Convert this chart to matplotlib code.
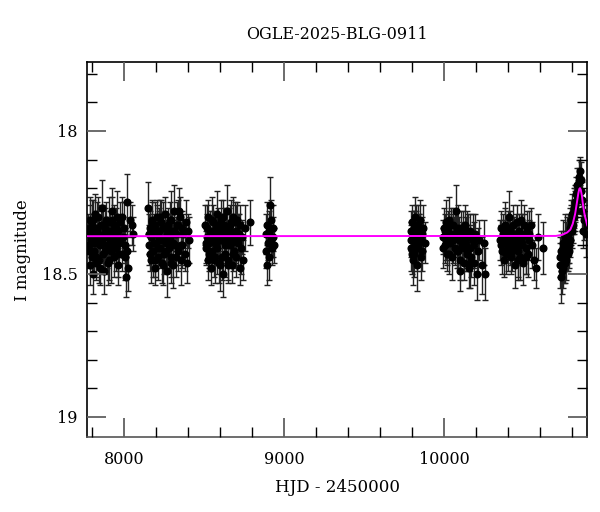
import matplotlib
matplotlib.use('Agg')
import matplotlib.pyplot as plt
import matplotlib.ticker as mticker
import numpy as np

# ---------------------------------------------------------------------------
# Photometry, season by season (HJD - 2450000, I mag, error)
# ---------------------------------------------------------------------------
t1 = [7776, 7781, 7786, 7790, 7795, 7800, 7804, 7809, 7813, 7818,
      7822, 7827, 7832, 7836, 7841, 7846, 7850, 7855, 7860, 7864,
      7869, 7874, 7878, 7883, 7888, 7892, 7897, 7902, 7906, 7911,
      7916, 7920, 7925, 7930, 7935, 7940, 7945, 7950, 7955, 7960,
      7966, 7972, 7978, 7985, 7992, 7999, 8006, 8013, 8017, 8022,
      8028, 8036, 8049, 8058,
      7779, 7788, 7798, 7807, 7816, 7825, 7834, 7844, 7853, 7867,
      7881, 7895, 7909, 7923, 7937, 7952, 7964, 7976, 7990, 8004]
m1 = [18.36, 18.42, 18.31, 18.47, 18.38, 18.33, 18.50, 18.35, 18.42, 18.29,
      18.39, 18.44, 18.34, 18.37, 18.30, 18.45, 18.40, 18.33, 18.38, 18.27,
      18.43, 18.36, 18.49, 18.34, 18.31, 18.40, 18.37, 18.46, 18.32, 18.39,
      18.35, 18.42, 18.28, 18.38, 18.44, 18.33, 18.36, 18.41, 18.30, 18.47,
      18.35, 18.39, 18.32, 18.43, 18.37, 18.34, 18.40, 18.51, 18.25, 18.42,
      18.48, 18.31, 18.33, 18.36,
      18.40, 18.34, 18.44, 18.31, 18.37, 18.46, 18.35, 18.39, 18.48, 18.33,
      18.42, 18.36, 18.45, 18.31, 18.40, 18.34, 18.43, 18.38, 18.30, 18.44]
e1 = [0.07, 0.06, 0.08, 0.07, 0.06, 0.09, 0.07, 0.06, 0.08, 0.07,
      0.06, 0.07, 0.09, 0.06, 0.07, 0.08, 0.06, 0.07, 0.06, 0.10,
      0.07, 0.06, 0.08, 0.07, 0.06, 0.08, 0.07, 0.08, 0.09, 0.06,
      0.07, 0.11, 0.08, 0.06, 0.07, 0.07, 0.06, 0.08, 0.09, 0.07,
      0.06, 0.08, 0.07, 0.06, 0.07, 0.09, 0.06, 0.07, 0.10, 0.07,
      0.08, 0.06, 0.07, 0.06,
      0.07, 0.08, 0.06, 0.07, 0.08, 0.06, 0.07, 0.09, 0.06, 0.07,
      0.08, 0.06, 0.07, 0.08, 0.06, 0.07, 0.08, 0.06, 0.07, 0.08]

t2 = [8152, 8157, 8162, 8167, 8172, 8177, 8182, 8187, 8192, 8197,
      8202, 8207, 8212, 8217, 8222, 8227, 8232, 8237, 8242, 8247,
      8252, 8257, 8262, 8267, 8272, 8277, 8282, 8287, 8292, 8297,
      8302, 8307, 8312, 8318, 8324, 8330, 8336, 8342, 8348, 8354,
      8360, 8366, 8372, 8379, 8386, 8393, 8400, 8408,
      8155, 8165, 8175, 8185, 8195, 8205, 8215, 8225, 8235, 8245,
      8255, 8265, 8275, 8285, 8295, 8305, 8315, 8327, 8339, 8357]
m2 = [18.27, 18.40, 18.34, 18.45, 18.37, 18.31, 18.42, 18.36, 18.48, 18.33,
      18.39, 18.30, 18.44, 18.37, 18.35, 18.41, 18.32, 18.46, 18.38, 18.34,
      18.43, 18.29, 18.39, 18.36, 18.49, 18.33, 18.41, 18.37, 18.31, 18.44,
      18.35, 18.47, 18.28, 18.40, 18.36, 18.33, 18.42, 18.28, 18.30, 18.45,
      18.34, 18.40, 18.36, 18.43, 18.32, 18.46, 18.35, 18.38,
      18.36, 18.43, 18.32, 18.39, 18.45, 18.35, 18.41, 18.30, 18.38, 18.47,
      18.34, 18.42, 18.37, 18.31, 18.46, 18.39, 18.35, 18.44, 18.33, 18.40]
e2 = [0.09, 0.07, 0.06, 0.08, 0.07, 0.06, 0.09, 0.07, 0.06, 0.08,
      0.07, 0.06, 0.08, 0.10, 0.07, 0.06, 0.08, 0.07, 0.06, 0.09,
      0.07, 0.06, 0.08, 0.07, 0.09, 0.06, 0.07, 0.08, 0.10, 0.07,
      0.06, 0.08, 0.09, 0.07, 0.06, 0.08, 0.07, 0.08, 0.07, 0.09,
      0.06, 0.08, 0.07, 0.06, 0.08, 0.07, 0.06, 0.08,
      0.07, 0.06, 0.08, 0.07, 0.06, 0.09, 0.07, 0.06, 0.08, 0.07,
      0.06, 0.07, 0.08, 0.06, 0.07, 0.08, 0.06, 0.07, 0.09, 0.07]

t3 = [8508, 8513, 8518, 8523, 8528, 8533, 8538, 8543, 8548, 8553,
      8558, 8563, 8568, 8573, 8578, 8583, 8588, 8593, 8598, 8603,
      8608, 8613, 8618, 8623, 8628, 8633, 8638, 8643, 8648, 8653,
      8658, 8663, 8668, 8673, 8678, 8683, 8688, 8693, 8698, 8703,
      8708, 8713, 8718, 8723, 8728, 8734, 8740, 8747, 8755, 8787,
      8510, 8520, 8530, 8540, 8550, 8560, 8570, 8580, 8590, 8600,
      8610, 8620, 8630, 8640, 8650, 8660, 8670, 8680, 8695, 8715]
m3 = [18.33, 18.41, 18.37, 18.45, 18.30, 18.39, 18.35, 18.48, 18.36, 18.42,
      18.32, 18.38, 18.44, 18.34, 18.40, 18.29, 18.37, 18.46, 18.35, 18.47,
      18.31, 18.38, 18.50, 18.36, 18.33, 18.43, 18.39, 18.28, 18.45, 18.37,
      18.34, 18.40, 18.32, 18.47, 18.36, 18.30, 18.42, 18.38, 18.35, 18.44,
      18.31, 18.39, 18.36, 18.48, 18.33, 18.41, 18.37, 18.45, 18.34, 18.32,
      18.39, 18.34, 18.43, 18.37, 18.31, 18.45, 18.36, 18.41, 18.33, 18.38,
      18.44, 18.30, 18.40, 18.35, 18.47, 18.33, 18.39, 18.43, 18.32, 18.37]
e3 = [0.07, 0.06, 0.08, 0.07, 0.06, 0.09, 0.07, 0.06, 0.08, 0.07,
      0.06, 0.07, 0.09, 0.06, 0.07, 0.08, 0.06, 0.07, 0.06, 0.09,
      0.07, 0.06, 0.08, 0.07, 0.06, 0.08, 0.07, 0.09, 0.07, 0.06,
      0.07, 0.08, 0.08, 0.06, 0.07, 0.07, 0.06, 0.08, 0.09, 0.07,
      0.06, 0.08, 0.07, 0.06, 0.07, 0.09, 0.06, 0.07, 0.08, 0.08,
      0.07, 0.08, 0.06, 0.07, 0.08, 0.06, 0.07, 0.09, 0.06, 0.07,
      0.08, 0.06, 0.07, 0.08, 0.06, 0.07, 0.08, 0.06, 0.07, 0.08]

t4 = [8885, 8889, 8893, 8897, 8901, 8905, 8909, 8913, 8917, 8921,
      8925, 8929, 8933, 8937]
m4 = [18.36, 18.42, 18.33, 18.47, 18.39, 18.35, 18.44, 18.26, 18.38, 18.31,
      18.41, 18.37, 18.34, 18.40]
e4 = [0.07, 0.06, 0.08, 0.07, 0.06, 0.07, 0.08, 0.10, 0.06, 0.07,
      0.06, 0.07, 0.08, 0.06]

t5 = [9792, 9796, 9800, 9804, 9808, 9812, 9816, 9820, 9824, 9828,
      9832, 9836, 9840, 9845, 9850, 9855, 9860, 9866, 9872, 9880,
      9794, 9802, 9810, 9818, 9826, 9834, 9842, 9858]
m5 = [18.35, 18.41, 18.32, 18.45, 18.38, 18.34, 18.43, 18.30, 18.39, 18.36,
      18.47, 18.33, 18.40, 18.37, 18.31, 18.44, 18.36, 18.42, 18.34, 18.39,
      18.38, 18.43, 18.36, 18.40, 18.33, 18.41, 18.35, 18.38]
e5 = [0.07, 0.08, 0.06, 0.09, 0.07, 0.06, 0.08, 0.07, 0.06, 0.08,
      0.09, 0.07, 0.06, 0.08, 0.07, 0.08, 0.06, 0.07, 0.08, 0.07,
      0.06, 0.07, 0.08, 0.06, 0.07, 0.08, 0.06, 0.07]

t6 = [9992, 9998, 10004, 10010, 10016, 10022, 10028, 10034, 10040, 10046,
      10052, 10058, 10064, 10070, 10076, 10082, 10088, 10094, 10100, 10106,
      10112, 10118, 10124, 10130, 10136, 10142, 10148, 10154, 10160, 10166,
      10172, 10180, 10188, 10196, 10204, 10212, 10220, 10235, 10250, 10258,
      9995, 10007, 10019, 10031, 10043, 10055, 10067, 10079, 10091, 10103,
      10115, 10127, 10145, 10163, 10185]
m6 = [18.37, 18.34, 18.40, 18.32, 18.38, 18.43, 18.35, 18.31, 18.39, 18.36,
      18.44, 18.33, 18.37, 18.41, 18.28, 18.35, 18.42, 18.38, 18.49, 18.34,
      18.40, 18.36, 18.46, 18.33, 18.39, 18.43, 18.37, 18.48, 18.35, 18.41,
      18.44, 18.38, 18.46, 18.36, 18.50, 18.42, 18.38, 18.47, 18.39, 18.50,
      18.41, 18.35, 18.39, 18.43, 18.33, 18.38, 18.36, 18.42, 18.34, 18.45,
      18.38, 18.41, 18.35, 18.46, 18.40]
e6 = [0.06, 0.07, 0.06, 0.08, 0.07, 0.06, 0.07, 0.08, 0.06, 0.07,
      0.08, 0.06, 0.07, 0.06, 0.09, 0.07, 0.06, 0.08, 0.07, 0.06,
      0.07, 0.08, 0.06, 0.07, 0.09, 0.06, 0.08, 0.07, 0.06, 0.08,
      0.07, 0.09, 0.08, 0.07, 0.09, 0.08, 0.07, 0.10, 0.08, 0.09,
      0.07, 0.06, 0.08, 0.07, 0.06, 0.08, 0.07, 0.06, 0.08, 0.07,
      0.06, 0.08, 0.07, 0.09, 0.08]

t7 = [10352, 10358, 10364, 10370, 10376, 10382, 10388, 10394, 10400, 10406,
      10412, 10418, 10424, 10430, 10436, 10442, 10448, 10454, 10460, 10466,
      10472, 10478, 10484, 10490, 10496, 10502, 10510, 10518, 10526, 10534,
      10542, 10552, 10564, 10576, 10590, 10620,
      10355, 10367, 10379, 10391, 10403, 10415, 10427, 10439, 10451, 10463,
      10475, 10487, 10499, 10514, 10530]
m7 = [18.38, 18.34, 18.42, 18.36, 18.45, 18.33, 18.39, 18.37, 18.41, 18.30,
      18.35, 18.44, 18.38, 18.33, 18.40, 18.47, 18.36, 18.32, 18.42, 18.38,
      18.35, 18.44, 18.31, 18.39, 18.46, 18.36, 18.41, 18.34, 18.43, 18.38,
      18.33, 18.40, 18.45, 18.48, 18.37, 18.41,
      18.40, 18.37, 18.35, 18.43, 18.34, 18.39, 18.42, 18.36, 18.39, 18.45,
      18.40, 18.37, 18.33, 18.44, 18.36]
e7 = [0.07, 0.06, 0.08, 0.07, 0.06, 0.08, 0.07, 0.06, 0.08, 0.09,
      0.07, 0.06, 0.08, 0.07, 0.06, 0.08, 0.07, 0.06, 0.09, 0.07,
      0.06, 0.08, 0.07, 0.06, 0.08, 0.07, 0.09, 0.06, 0.08, 0.07,
      0.06, 0.08, 0.07, 0.07, 0.08, 0.09,
      0.07, 0.06, 0.08, 0.07, 0.06, 0.08, 0.07, 0.06, 0.08, 0.07,
      0.06, 0.08, 0.07, 0.06, 0.08]

t8 = [10726, 10730, 10734, 10738, 10742, 10746, 10750, 10754, 10758, 10762,
      10766, 10770, 10774, 10778, 10782, 10786, 10790, 10794, 10798, 10802,
      10806, 10810, 10814, 10818, 10822, 10826, 10830, 10834, 10838, 10842,
      10846, 10850, 10854, 10858, 10862, 10866, 10872, 10878, 10886, 10892,
      10728, 10736, 10744, 10752, 10760, 10768, 10776, 10784, 10796, 10808,
      10820, 10836]
m8 = [18.47, 18.42, 18.51, 18.44, 18.39, 18.48, 18.43, 18.37, 18.46, 18.41,
      18.45, 18.38, 18.43, 18.36, 18.40, 18.34, 18.38, 18.31, 18.35, 18.29,
      18.33, 18.27, 18.30, 18.25, 18.28, 18.22, 18.24, 18.19, 18.22, 18.16,
      18.18, 18.14, 18.17, 18.21, 18.24, 18.28, 18.35, 18.31, 18.36, 18.33,
      18.44, 18.49, 18.41, 18.46, 18.40, 18.43, 18.39, 18.42, 18.33, 18.30,
      18.26, 18.21]
e8 = [0.08, 0.07, 0.09, 0.07, 0.08, 0.07, 0.06, 0.08, 0.07, 0.06,
      0.07, 0.08, 0.06, 0.07, 0.06, 0.07, 0.06, 0.07, 0.06, 0.07,
      0.06, 0.07, 0.06, 0.06, 0.07, 0.06, 0.05, 0.06, 0.05, 0.06,
      0.05, 0.05, 0.06, 0.05, 0.06, 0.07, 0.06, 0.07, 0.08, 0.07,
      0.07, 0.08, 0.06, 0.07, 0.08, 0.06, 0.07, 0.06, 0.07, 0.06,
      0.06, 0.05]

# model curve
model_t = [7700, 10700, 10740, 10770, 10790, 10805, 10820, 10830, 10840,
           10846, 10850, 10855, 10862, 10870, 10880, 10896]
model_m = [18.368, 18.367, 18.363, 18.355, 18.345, 18.325, 18.29, 18.255, 18.218,
           18.203, 18.20, 18.205, 18.225, 18.262, 18.295, 18.33]

hjd = np.concatenate([t1, t2, t3, t4, t5, t6, t7, t8])
mag = np.concatenate([m1, m2, m3, m4, m5, m6, m7, m8])
err = np.concatenate([e1, e2, e3, e4, e5, e6, e7, e8])

# ---------------------------------------------------------------------------
plt.rcParams['font.family'] = 'DejaVu Serif'

fig = plt.figure(figsize=(6, 5.12), dpi=100)
ax = fig.add_axes([0.1455, 0.1465, 0.8333, 0.7318])

ax.errorbar(hjd, mag, yerr=err, fmt='o', color='black', ms=4.8,
            ecolor='#222222', elinewidth=1, capsize=2.5, capthick=1, zorder=2)
ax.plot(model_t, model_m, color='#ff00ff', lw=1.4, zorder=3)

ax.set_xlim(7771, 10896)
ax.set_ylim(19.07, 17.76)

ax.xaxis.set_major_locator(mticker.MultipleLocator(1000))
ax.xaxis.set_minor_locator(mticker.MultipleLocator(200))
ax.yaxis.set_major_locator(mticker.FixedLocator([18, 18.5, 19]))
ax.yaxis.set_major_formatter(mticker.FixedFormatter(['18', '18.5', '19']))
ax.yaxis.set_minor_locator(mticker.MultipleLocator(0.1))

ax.tick_params(which='both', direction='in', top=True, right=True, labelsize=11.5)
ax.tick_params(which='major', length=13.5, width=1.3, color='#606060')
ax.tick_params(which='minor', length=7, width=1, color='black')
ax.tick_params(axis='x', which='major', pad=10)
ax.tick_params(axis='y', which='major', pad=7)
ax.set_axisbelow(False)

for s in ax.spines.values():
    s.set_linewidth(1.2)
ax.spines['bottom'].set_color('#555555')

ax.set_title('OGLE-2025-BLG-0911', fontsize=11.5, pad=17)
ax.set_xlabel('HJD - 2450000', fontsize=12, labelpad=8)
ax.set_ylabel('I magnitude', fontsize=12, labelpad=8)

fig.savefig('out.png', dpi=100)
